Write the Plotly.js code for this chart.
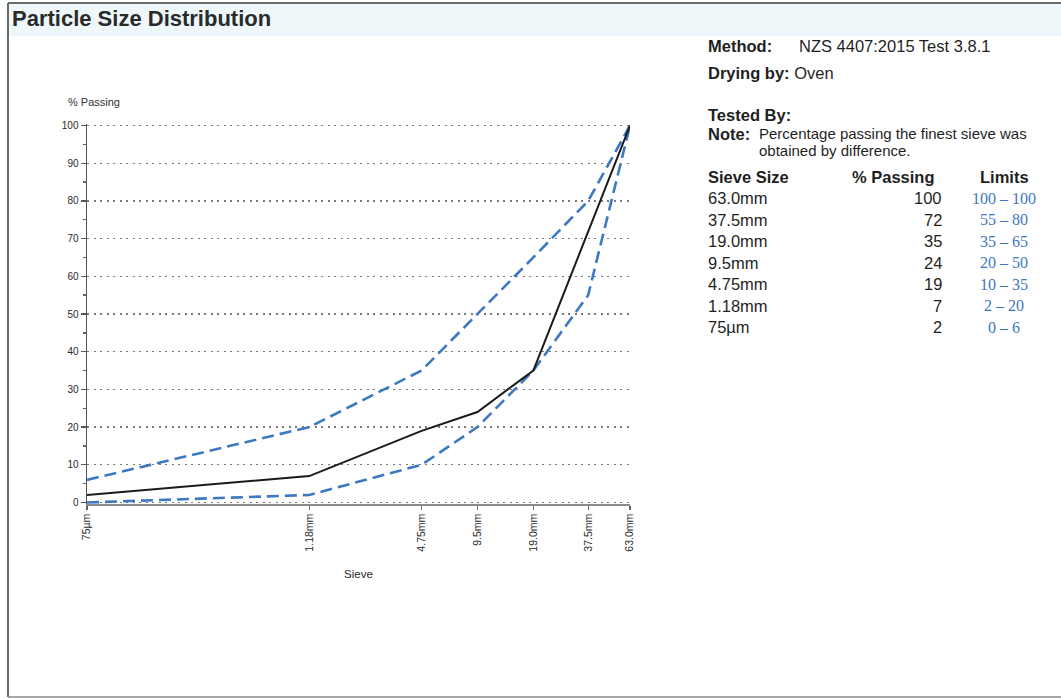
<!DOCTYPE html>
<html>
<head>
<meta charset="utf-8">
<script src="https://cdn.plot.ly/plotly-3.0.1.min.js"></script>
<style>
  html, body { margin: 0; padding: 0; background: #ffffff; }
  #chart { width: 1061px; height: 699px; }
</style>
</head>
<body>
<div id="chart"></div>
<script>
// ---- data ----
const sieveLabels = ['75µm', '1.18mm', '4.75mm', '9.5mm', '19.0mm', '37.5mm', '63.0mm'];
const sieveSizes  = [0.075, 1.18, 4.75, 9.5, 19.0, 37.5, 63.0];
const passing     = [2, 7, 19, 24, 35, 72, 100];
const lowerLimit  = [0, 2, 10, 20, 35, 55, 100];
const upperLimit  = [6, 20, 35, 50, 65, 80, 100];
const yTicks      = [0, 10, 20, 30, 40, 50, 60, 70, 80, 90, 100];

// ---- layout helpers (pixel -> paper) ----
const W = 1061, H = 699;
const M = { l: 87, r: 431, t: 124, b: 195 };
const PW = W - M.l - M.r, PH = H - M.t - M.b;
const xp = px => (px - M.l) / PW;
const yp = py => (H - M.b - py) / PH;

const SANS = 'Liberation Sans, Arial, sans-serif';
const SERIF = 'Liberation Serif, Times New Roman, serif';
const TXT = '#1f1f1f';
const BLUE = '#3d78c3';

const traces = [
  { x: sieveSizes, y: upperLimit, type: 'scatter', mode: 'lines', name: 'Upper limit',
    line: { color: BLUE, width: 2.6, dash: '12px,6px' }, hoverinfo: 'skip' },
  { x: sieveSizes, y: lowerLimit, type: 'scatter', mode: 'lines', name: 'Lower limit',
    line: { color: BLUE, width: 2.6, dash: '12px,6px' }, hoverinfo: 'skip' },
  { x: sieveSizes, y: passing, type: 'scatter', mode: 'lines', name: '% Passing',
    line: { color: '#1a1a1a', width: 2 }, hoverinfo: 'skip' }
];

const ann = [];
function txt(text, px, py, opts) {
  opts = opts || {};
  ann.push({
    text: text, xref: 'paper', yref: 'paper', x: xp(px), y: yp(py),
    xanchor: opts.anchor || 'left', yanchor: 'middle', showarrow: false,
    font: { family: opts.family || SANS, size: opts.size || 16.5, color: opts.color || TXT }
  });
}

txt('% Passing', 66, 102, { size: 11, color: '#333' });

txt('<b>Method:</b>', 706, 46);
txt('NZS 4407:2015 Test 3.8.1', 797, 46);
txt('<b>Drying by:</b> Oven', 706, 73);
txt('<b>Tested By:</b>', 706, 115);
txt('<b>Note:</b>', 706, 134);
txt('Percentage passing the finest sieve was', 757, 133, { size: 15 });
txt('obtained by difference.', 757, 150, { size: 15 });

txt('<b>Sieve Size</b>', 706, 177);
txt('<b>% Passing</b>', 937, 177, { anchor: 'right' });
txt('<b>Limits</b>', 1004, 177, { anchor: 'center' });

const n = sieveLabels.length;
for (let k = 0; k < n; k++) {
  const i = n - 1 - k;
  const py = 198 + k * 21.5;
  txt(sieveLabels[i], 706, py);
  txt(String(passing[i]), 944, py, { anchor: 'right' });
  txt(lowerLimit[i] + ' – ' + upperLimit[i], 1004, py,
      { anchor: 'center', family: SERIF, color: BLUE, size: 16 });
}

const shapes = [
  { type: 'rect', xref: 'paper', yref: 'paper', x0: xp(9), x1: xp(1061), y0: yp(4), y1: yp(36),
    fillcolor: '#eef8fb', line: { width: 0 }, layer: 'below' },
  { type: 'line', xref: 'paper', yref: 'paper', x0: xp(8), x1: xp(1061), y0: yp(3), y1: yp(3),
    line: { color: '#6a6a6a', width: 2 } },
  { type: 'line', xref: 'paper', yref: 'paper', x0: xp(8), x1: xp(8), y0: yp(3), y1: yp(697),
    line: { color: '#6a6a6a', width: 2 } },
  { type: 'line', xref: 'paper', yref: 'paper', x0: xp(8), x1: xp(1061), y0: yp(697), y1: yp(697),
    line: { color: '#8a8a8a', width: 1.5 } }
];

const layout = {
  width: W, height: H,
  margin: M,
  paper_bgcolor: '#ffffff', plot_bgcolor: '#ffffff',
  showlegend: false,
  title: {
    text: '<b>Particle Size Distribution</b>',
    xref: 'container', yref: 'container',
    x: 12 / W, xanchor: 'left', y: 1 - 18 / H, yanchor: 'middle',
    font: { family: SANS, size: 22, color: '#2a2a2a' }
  },
  xaxis: {
    type: 'log',
    range: [Math.log10(sieveSizes[0]), Math.log10(sieveSizes[n - 1])],
    tickmode: 'array', tickvals: sieveSizes, ticktext: sieveLabels,
    tickangle: -90,
    ticks: 'outside', ticklen: 4, tickcolor: '#666', tickwidth: 1.3,
    showline: true, linecolor: '#8a8a8a', linewidth: 1.5,
    showgrid: false, zeroline: false,
    tickfont: { family: SANS, size: 10.5, color: '#2a2a2a' },
    title: { text: 'Sieve', standoff: 19, font: { family: SANS, size: 11.5, color: '#2a2a2a' } },
    automargin: false, fixedrange: true
  },
  yaxis: {
    range: [-0.4, 100.4],
    tickmode: 'array', tickvals: yTicks,
    ticks: 'outside', ticklen: 5, tickcolor: '#555', tickwidth: 1.3,
    minor: { dtick: 5, tick0: 0, ticks: 'outside', ticklen: 3, tickcolor: '#666', showgrid: false },
    showline: true, linecolor: '#555', linewidth: 1.5,
    showgrid: true, gridcolor: '#7a7a7a', gridwidth: 1.4, griddash: '2px,4.5px',
    zeroline: false,
    tickfont: { family: SANS, size: 10, color: '#2a2a2a' },
    automargin: false, fixedrange: true
  },
  annotations: ann,
  shapes: shapes
};

Plotly.newPlot('chart', traces, layout, { displayModeBar: false, staticPlot: true });
</script>
</body>
</html>
